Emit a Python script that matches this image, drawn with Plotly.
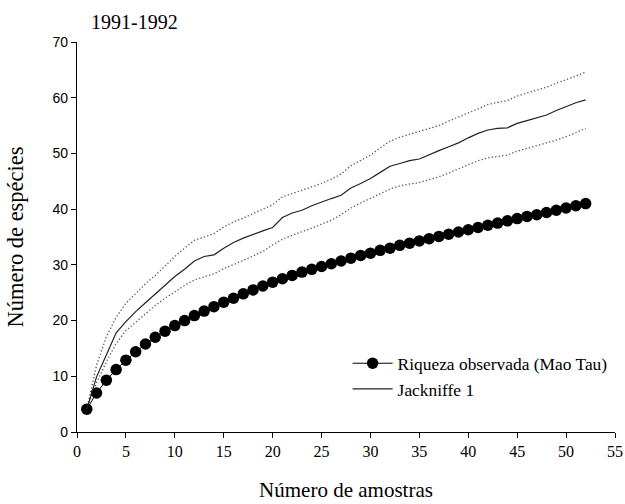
import plotly.graph_objects as go

# Sample counts (x) and species-accumulation estimates
amostras = list(range(1, 53))

riqueza_observada = [
    4.1, 7.0, 9.3, 11.2, 12.9, 14.4, 15.8, 17.0, 18.1, 19.1,
    20.0, 20.9, 21.7, 22.5, 23.3, 24.0, 24.8, 25.5, 26.2, 26.9,
    27.5, 28.1, 28.7, 29.2, 29.7, 30.2, 30.7, 31.2, 31.7, 32.1,
    32.6, 33.0, 33.5, 33.9, 34.3, 34.7, 35.1, 35.5, 35.9, 36.3,
    36.7, 37.1, 37.5, 37.9, 38.3, 38.7, 39.0, 39.4, 39.8, 40.2,
    40.6, 41.0,
]

jackknife1 = [
    4.1, 9.9, 13.8, 17.8, 19.8, 21.6, 23.2, 24.8, 26.4, 27.9,
    29.2, 30.7, 31.5, 31.8, 33.0, 34.0, 34.8, 35.5, 36.1, 36.7,
    38.5, 39.3, 39.8, 40.6, 41.3, 41.9, 42.5, 43.8, 44.6, 45.5,
    46.6, 47.7, 48.2, 48.7, 49.0, 49.8, 50.5, 51.2, 51.9, 52.8,
    53.6, 54.2, 54.5, 54.6, 55.4, 55.9, 56.4, 56.9, 57.7, 58.4,
    59.1, 59.6,
]

jackknife1_sup = [
    4.1, 12.0, 17.1, 20.6, 23.1, 24.9, 26.6, 28.1, 29.8, 31.5,
    33.0, 34.4, 35.0, 35.6, 36.8, 37.7, 38.4, 39.2, 40.0, 40.8,
    42.2, 42.8, 43.3, 43.9, 44.6, 45.4, 46.3, 47.8, 48.7, 49.7,
    51.0, 52.2, 52.9, 53.4, 53.9, 54.4, 55.0, 55.8, 56.5, 57.3,
    58.0, 58.8, 59.2, 59.5, 60.3, 60.8, 61.3, 61.9, 62.6, 63.2,
    63.9, 64.6,
]

jackknife1_inf = [
    4.1, 8.8, 12.6, 15.9, 18.2, 19.7, 21.2, 22.7, 24.0, 25.2,
    26.3, 27.3, 27.9, 28.4, 29.3, 30.0, 30.8, 31.6, 32.4, 33.6,
    34.6, 35.3, 35.9, 36.6, 37.3, 38.0, 39.0, 40.2, 41.1, 41.9,
    42.8, 43.6, 44.2, 44.5, 44.8, 45.3, 45.8, 46.5, 47.2, 48.0,
    48.7, 49.2, 49.5, 49.7, 50.4, 50.9, 51.3, 51.8, 52.4, 53.0,
    53.7, 54.5,
]

x_ticks = list(range(0, 56, 5))
y_ticks = list(range(0, 71, 10))

SERIF = "Liberation Serif, Times New Roman, serif"
SANS = "Liberation Sans, Arial, sans-serif"

fig = go.Figure()

# Confidence bounds of Jackknife 1 (fine dotted)
for band in (jackknife1_sup, jackknife1_inf):
    fig.add_trace(go.Scatter(
        x=amostras, y=band, mode="lines",
        line=dict(color="#555555", width=1.3, dash="1.3px,2.2px"),
        showlegend=False, hoverinfo="skip",
    ))

fig.add_trace(go.Scatter(
    x=amostras, y=riqueza_observada, mode="lines+markers",
    name="Riqueza observada (Mao Tau)",
    line=dict(color="black", width=1),
    marker=dict(color="black", size=11.5, symbol="circle"),
))

fig.add_trace(go.Scatter(
    x=amostras, y=jackknife1, mode="lines",
    name="Jackniffe 1",
    line=dict(color="#222222", width=1.2),
))

fig.update_layout(
    width=625, height=504,
    margin=dict(l=77, r=10, t=42, b=72, autoexpand=False),
    paper_bgcolor="white", plot_bgcolor="white",
    showlegend=True,
    legend=dict(
        x=0.503, y=0.222, xanchor="left", yanchor="top",
        font=dict(family=SERIF, size=17.4, color="black"),
        bgcolor="rgba(0,0,0,0)", tracegroupgap=0, itemwidth=40,
    ),
    annotations=[dict(
        text="1991-1992", xref="paper", yref="paper",
        x=(89 - 77) / 538, y=1.0, xanchor="left", yanchor="bottom",
        yshift=7, showarrow=False,
        font=dict(family=SERIF, size=20, color="black"),
    )],
)

fig.update_xaxes(
    range=[0, 55], tickvals=x_ticks, ticktext=[str(v) for v in x_ticks],
    showline=True, linecolor="black", linewidth=1.2,
    ticks="outside", ticklen=5, tickcolor="black", tickwidth=1.2,
    showgrid=False, zeroline=False, automargin=False,
    tickfont=dict(family=SERIF, size=16, color="black"),
    title=dict(text="Número de amostras", standoff=23,
               font=dict(family=SERIF, size=21, color="black")),
)

fig.update_yaxes(
    range=[0, 70], tickvals=y_ticks, ticktext=[str(v) for v in y_ticks],
    showline=True, linecolor="black", linewidth=1.2,
    ticks="outside", ticklen=5, tickcolor="black", tickwidth=1.2,
    showgrid=False, zeroline=False, automargin=False,
    tickfont=dict(family=SANS, size=14, color="black"),
    title=dict(text="Número de espécies", standoff=22,
               font=dict(family=SERIF, size=22.5, color="black")),
)

fig.write_html("out.html")
